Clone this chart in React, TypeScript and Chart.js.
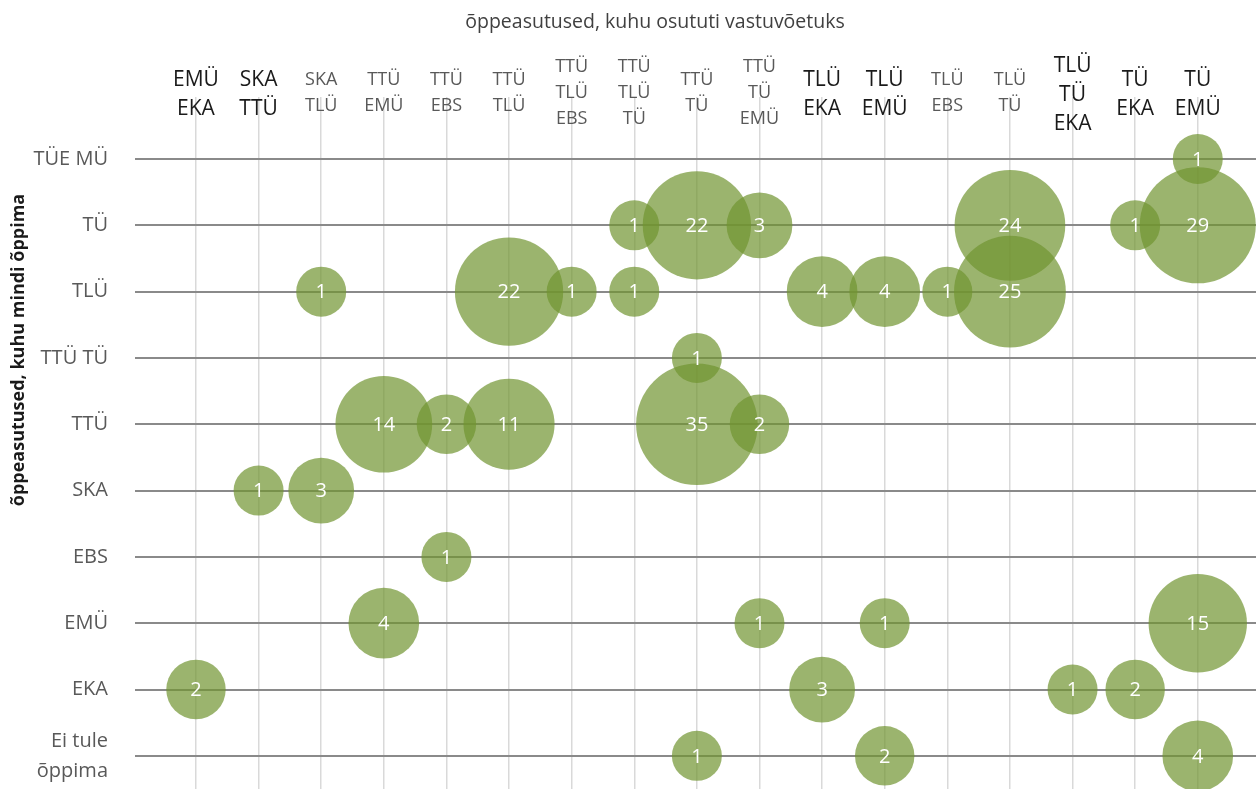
import React, { useEffect, useRef } from 'react';
import { Chart, registerables } from 'chart.js';

Chart.register(...registerables);

const xTitle = 'õppeasutused, kuhu osututi vastuvõetuks';
const yTitle = 'õppeasutused, kuhu mindi õppima';

const columnLabels: string[][] = [
  ['EMÜ', 'EKA'], ['SKA', 'TTÜ'], ['SKA', 'TLÜ'], ['TTÜ', 'EMÜ'], ['TTÜ', 'EBS'], ['TTÜ', 'TLÜ'],
  ['TTÜ', 'TLÜ', 'EBS'], ['TTÜ', 'TLÜ', 'TÜ'], ['TTÜ', 'TÜ'], ['TTÜ', 'TÜ', 'EMÜ'], ['TLÜ', 'EKA'],
  ['TLÜ', 'EMÜ'], ['TLÜ', 'EBS'], ['TLÜ', 'TÜ'], ['TLÜ', 'TÜ', 'EKA'], ['TÜ', 'EKA'], ['TÜ', 'EMÜ'],
];
const columnEmphasis = [true, true, false, false, false, false, false, false, false, false, true, true, false, false, true, true, true];

const rowLabels: (string | string[])[] = ['TÜE MÜ', 'TÜ', 'TLÜ', 'TTÜ TÜ', 'TTÜ', 'SKA', 'EBS', 'EMÜ', 'EKA', ['Ei tule', 'õppima']];

const _ = null;
const rowTUEMU  = [_, _, _, _, _, _, _, _, _, _, _, _, _, _, _, _, 1];
const rowTU     = [_, _, _, _, _, _, _, 1, 22, 3, _, _, _, 24, _, 1, 29];
const rowTLU    = [_, _, 1, _, _, 22, 1, 1, _, _, 4, 4, 1, 25, _, _, _];
const rowTTUTU  = [_, _, _, _, _, _, _, _, 1, _, _, _, _, _, _, _, _];
const rowTTU    = [_, _, _, 14, 2, 11, _, _, 35, 2, _, _, _, _, _, _, _];
const rowSKA    = [_, 1, 3, _, _, _, _, _, _, _, _, _, _, _, _, _, _];
const rowEBS    = [_, _, _, _, 1, _, _, _, _, _, _, _, _, _, _, _, _];
const rowEMU    = [_, _, _, 4, _, _, _, _, _, 1, _, 1, _, _, _, _, 15];
const rowEKA    = [2, _, _, _, _, _, _, _, _, _, 3, _, _, _, 1, 2, _];
const rowEiTule = [_, _, _, _, _, _, _, _, 1, _, _, 2, _, _, _, _, 4];

const rowValues = [rowTUEMU, rowTU, rowTLU, rowTTUTU, rowTTU, rowSKA, rowEBS, rowEMU, rowEKA, rowEiTule];

const FONT = '"Open Sans", "Noto Sans", sans-serif';

export default function App() {
  const ref = useRef<HTMLCanvasElement | null>(null);

  useEffect(() => {
    const canvas = ref.current;
    if (!canvas) return;

    const points: { x: number; y: number; v: number }[] = [];
    rowValues.forEach((vals, ri) => {
      vals.forEach((v, ci) => {
        if (v != null) points.push({ x: ci, y: ri, v });
      });
    });

    const textPlugin = {
      id: 'textPlugin',
      afterDatasetsDraw(chart: any) {
        const ctx = chart.ctx;
        const meta = chart.getDatasetMeta(0);
        ctx.save();
        ctx.fillStyle = '#ffffff';
        ctx.font = `20px ${FONT}`;
        ctx.textAlign = 'center';
        ctx.textBaseline = 'middle';
        meta.data.forEach((el: any, i: number) => {
          ctx.fillText(String(points[i].v), el.x, el.y + 1);
        });
        ctx.restore();
      },
      afterDraw(chart: any) {
        const ctx = chart.ctx;
        const xs = chart.scales.x;
        ctx.save();
        ctx.textAlign = 'center';
        ctx.textBaseline = 'middle';
        columnLabels.forEach((lines, i) => {
          const big = columnEmphasis[i];
          const lh = big ? 29 : 26;
          ctx.font = big ? `21px ${FONT}` : `18px ${FONT}`;
          ctx.fillStyle = big ? '#1a1a1a' : '#595959';
          const cx = xs.getPixelForValue(i);
          const cy = 93 + (big ? 2 : 0);
          const start = cy - ((lines.length - 1) * lh) / 2;
          lines.forEach((t, k) => ctx.fillText(t, cx, start + k * lh));
        });
        // x title
        ctx.font = `19.5px ${FONT}`;
        ctx.fillStyle = '#404040';
        ctx.fillText(xTitle, 655, 22);
        // y title
        ctx.translate(19, 350);
        ctx.rotate(-Math.PI / 2);
        ctx.font = `bold 18px ${FONT}`;
        ctx.fillStyle = '#1a1a1a';
        ctx.fillText(yTitle, 0, 0);
        ctx.restore();
      },
    };

    const chart = new Chart(canvas, {
      type: 'bubble',
      data: {
        datasets: [
          {
            data: points as any,
            backgroundColor: 'rgba(112,148,48,0.7)',
            borderWidth: 0,
            hoverBorderWidth: 0,
            radius: (c: any) => 25 * Math.pow(c.raw ? c.raw.v : 1, 0.25),
            clip: false,
          } as any,
        ],
      },
      options: {
        responsive: false,
        animation: false,
        events: [],
        layout: { autoPadding: false, padding: { top: 97, left: 0, right: 0, bottom: 0 } },
        plugins: {
          legend: { display: false },
          title: { display: false },
          tooltip: { enabled: false },
        },
        scales: {
          x: {
            type: 'linear',
            position: 'bottom',
            min: -0.974,
            max: 16.93,
            afterBuildTicks: (s: any) => {
              s.ticks = columnLabels.map((_l, i) => ({ value: i }));
            },
            afterFit: (s: any) => {
              s.height = 0;
              s.paddingLeft = 0;
              s.paddingRight = 0;
            },
            ticks: { display: false },
            border: { display: false },
            grid: { color: '#d9d9d9', lineWidth: 1.5, drawTicks: false },
          },
          y: {
            type: 'linear',
            reverse: true,
            min: -0.935,
            max: 9.5,
            afterBuildTicks: (s: any) => {
              s.ticks = rowLabels.map((_l, i) => ({ value: i }));
            },
            afterFit: (s: any) => {
              s.width = 135;
              s.paddingTop = 0;
              s.paddingBottom = 0;
            },
            ticks: {
              padding: 27,
              color: '#595959',
              font: { family: FONT, size: 20, lineHeight: 1.5 },
              callback: (v: any) => rowLabels[Math.round(Number(v))] as any,
            },
            border: { display: false },
            grid: { color: '#8a8a8a', lineWidth: 2, drawTicks: false },
          },
        },
      },
      plugins: [textPlugin],
    });

    return () => chart.destroy();
  }, []);

  return (
    <div style={{ position: 'absolute', left: 0, top: 0, width: 1256, height: 789, background: '#fff' }}>
      <canvas ref={ref} width={1256} height={789} style={{ display: 'block' }} />
    </div>
  );
}
